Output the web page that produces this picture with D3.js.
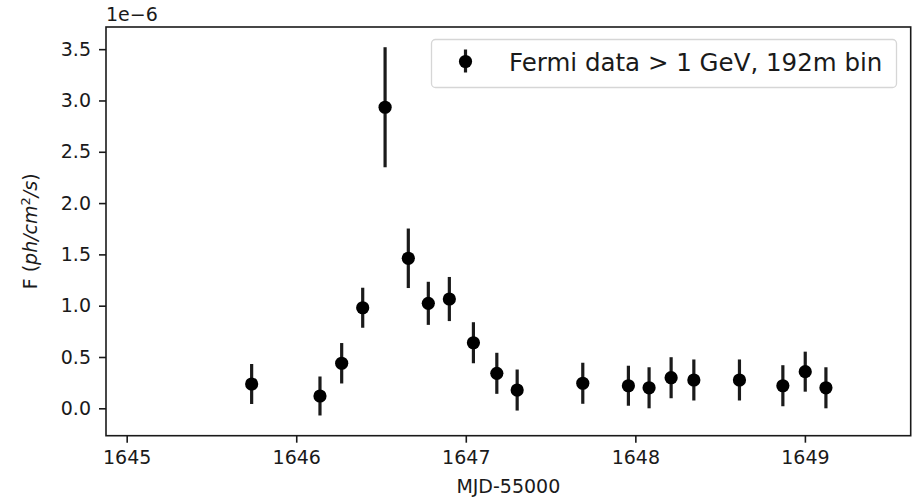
<!DOCTYPE html>
<html>
<head>
<meta charset="utf-8">
<script src="https://cdn.jsdelivr.net/npm/d3@7"></script>
<style>
  body { margin: 0; background: #fff; }
  svg { display: block; font-family: "DejaVu Sans", sans-serif; }
</style>
</head>
<body>
<div id="content"></div>
<script>
// light curve values (flux in units of 1e-6 ph/cm2/s)
var mjd = [1645.737, 1646.140, 1646.268, 1646.392, 1646.524, 1646.661, 1646.779, 1646.903, 1647.045, 1647.183,
           1647.303, 1647.690, 1647.959, 1648.081, 1648.211, 1648.345, 1648.614, 1648.870, 1649.002, 1649.124];
var flux = [0.237, 0.12, 0.439, 0.98, 2.934, 1.462, 1.023, 1.065, 0.639, 0.341,
            0.178, 0.244, 0.22, 0.2, 0.298, 0.276, 0.276, 0.22, 0.357, 0.2];
var fluxErr = [0.195, 0.19, 0.197, 0.195, 0.585, 0.29, 0.21, 0.215, 0.2, 0.2,
               0.2, 0.2, 0.195, 0.2, 0.2, 0.2, 0.2, 0.2, 0.195, 0.2];
var xTicks = [1645, 1646, 1647, 1648, 1649];
var yTicks = [0, 0.5, 1.0, 1.5, 2.0, 2.5, 3.0, 3.5];
var legendLabel = "Fermi data > 1 GeV, 192m bin";

var W = 915, H = 501;
var margin = {top: 27, right: 4.3, bottom: 65.3, left: 106};
var width = W - margin.left - margin.right,
    height = H - margin.top - margin.bottom;
var ink = "#1a1a1a";

var svg = d3.select("#content").append("svg")
    .attr("width", W).attr("height", H);
var g = svg.append("g")
    .attr("transform", "translate(" + margin.left + "," + margin.top + ")");

var x = d3.scaleLinear().domain([1644.878, 1649.624]).range([0, width]);
var y = d3.scaleLinear().domain([-0.267, 3.716]).range([height, 0]);

// axes
var xAxis = g.append("g")
    .attr("transform", "translate(0," + height + ")")
    .call(d3.axisBottom(x).tickValues(xTicks).tickFormat(d3.format("d")).tickSize(7).tickPadding(8));
var yAxis = g.append("g")
    .call(d3.axisLeft(y).tickValues(yTicks).tickFormat(d3.format(".1f")).tickSize(7).tickPadding(8));
[xAxis, yAxis].forEach(function(a) {
  a.select(".domain").remove();
  a.selectAll(".tick line").attr("stroke", ink).attr("stroke-width", 1.6);
  a.selectAll(".tick text").attr("fill", ink).style("font-size", "19px")
    .style("font-family", "DejaVu Sans");
});

// frame
g.append("rect")
    .attr("width", width).attr("height", height)
    .attr("fill", "none").attr("stroke", ink).attr("stroke-width", 1.6);

// error bars + markers
var pts = d3.range(mjd.length).map(function(i) {
  return {x: mjd[i], y: flux[i], e: fluxErr[i]};
});
g.selectAll("line.err").data(pts).enter().append("line")
    .attr("class", "err")
    .attr("x1", function(d) { return x(d.x); })
    .attr("x2", function(d) { return x(d.x); })
    .attr("y1", function(d) { return y(d.y - d.e); })
    .attr("y2", function(d) { return y(d.y + d.e); })
    .attr("stroke", ink).attr("stroke-width", 3.2);
g.selectAll("circle.pt").data(pts).enter().append("circle")
    .attr("class", "pt")
    .attr("cx", function(d) { return x(d.x); })
    .attr("cy", function(d) { return y(d.y); })
    .attr("r", 6.6).attr("fill", "#000");

// legend
var lg = svg.append("g").attr("transform", "translate(431.5,39.5)");
lg.append("rect").attr("width", 465).attr("height", 48).attr("rx", 4)
    .attr("fill", "#fff").attr("fill-opacity", 0.8)
    .attr("stroke", "#d6d6d6").attr("stroke-width", 1.3);
lg.append("line").attr("x1", 34).attr("x2", 34).attr("y1", 10).attr("y2", 33)
    .attr("stroke", ink).attr("stroke-width", 3.2);
lg.append("circle").attr("cx", 34).attr("cy", 22).attr("r", 6.6).attr("fill", "#000");
lg.append("text").attr("x", 77.5).attr("y", 31).attr("fill", ink)
    .style("font-size", "24.5px").text(legendLabel);

// offset text
svg.append("text").attr("x", 106).attr("y", 21).attr("fill", ink)
    .style("font-size", "19px").text("1e\u22126");

// axis labels
svg.append("text").attr("x", margin.left + width / 2).attr("y", 493)
    .attr("text-anchor", "middle").attr("fill", ink)
    .style("font-size", "19px").text("MJD-55000");

var yl = svg.append("text")
    .attr("transform", "translate(37," + (margin.top + height / 2) + ") rotate(-90)")
    .attr("text-anchor", "middle").attr("fill", ink)
    .style("font-size", "19px");
yl.append("tspan").text("F (");
yl.append("tspan").style("font-style", "italic").text("ph/cm");
yl.append("tspan").attr("dy", -7).style("font-size", "13px").text("2");
yl.append("tspan").attr("dy", 7).style("font-style", "italic").text("/s");
yl.append("tspan").text(")");
</script>
</body>
</html>
